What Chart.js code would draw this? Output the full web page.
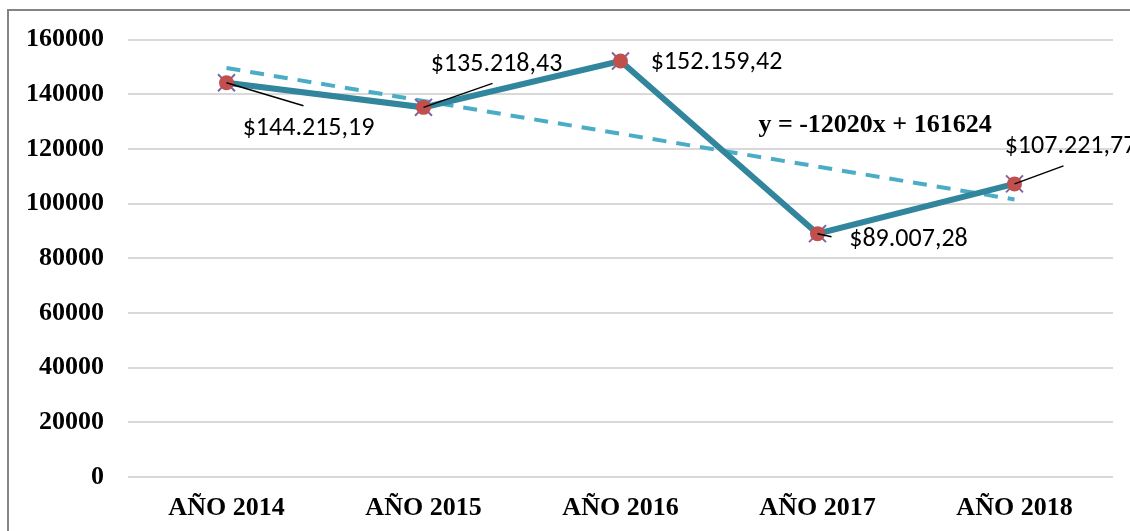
<!DOCTYPE html>
<html>
<head>
<meta charset="utf-8">
<script src="https://cdn.jsdelivr.net/npm/chart.js@4/dist/chart.umd.min.js"></script>
<style>
  html, body { margin: 0; padding: 0; background: #fff; overflow: hidden; }
  #frame {
    position: absolute; left: 7px; top: 9px; width: 1140px; height: 540px;
    border: 2px solid #848484; box-sizing: border-box;
  }
  #wrap { position: absolute; left: 0; top: 0; width: 1130px; height: 531px; }
</style>
</head>
<body>
<div id="frame"></div>
<div id="wrap"><canvas id="myChart"></canvas></div>
<script>
const categories = ["AÑO 2014", "AÑO 2015", "AÑO 2016", "AÑO 2017", "AÑO 2018"];
const ventas = [144215.19, 135218.43, 152159.42, 89007.28, 107221.77];
const etiquetas = ["$144.215,19", "$135.218,43", "$152.159,42", "$89.007,28", "$107.221,77"];
const yTicks = [0, 20000, 40000, 60000, 80000, 100000, 120000, 140000, 160000];
const trendSlope = -12020;
const trendIntercept = 161624;
const trendText = "y = -12020x + 161624";

// linea de tendencia evaluada en x = 1..5 (como en Excel)
const tendencia = categories.map((c, i) => trendSlope * (i + 1) + trendIntercept);

// posicion de las etiquetas respecto al punto: [dx, dy, finLineaDx, finLineaDy]
const labelPos = [
  [82, 46, 77, 23],
  [73, -43, 69, -24],
  [96, 1, null, null],
  [91, 6, 14, 3],
  [56, -37, 49, -18]
];

let serif = "'Liberation Serif', 'Times New Roman', serif";

let dataLabels = {
  id: "dataLabels",
  afterDatasetsDraw(chart) {
    let ctx = chart.ctx;
    let meta = chart.getDatasetMeta(2);
    ctx.save();
    ctx.font = "26px Calibri, Carlito, 'Noto Sans'";
    ctx.textAlign = "center";
    ctx.textBaseline = "middle";
    meta.data.forEach((pt, i) => {
      let p = labelPos[i];
      if (p[2] != null) {
        ctx.beginPath();
        ctx.strokeStyle = "#000";
        ctx.lineWidth = 1.5;
        ctx.moveTo(pt.x, pt.y);
        ctx.lineTo(pt.x + p[2], pt.y + p[3]);
        ctx.stroke();
      }
      ctx.fillStyle = "#000";
      ctx.fillText(etiquetas[i], pt.x + p[0], pt.y + p[1]);
    });
    // ecuacion de la tendencia
    let xs = chart.scales.x;
    let ys = chart.scales.y;
    ctx.font = "bold 26px " + serif;
    ctx.textAlign = "left";
    ctx.fillText(trendText, xs.getPixelForValue(2.7), ys.getPixelForValue(128500));
    ctx.restore();
  }
};

new Chart(document.getElementById("myChart"), {
  type: "line",
  data: {
    labels: categories,
    datasets: [
      {
        label: "Lineal",
        data: tendencia,
        borderColor: "#4BACC6",
        borderWidth: 4,
        borderDash: [14, 10],
        pointRadius: 0,
        fill: false,
        order: 3
      },
      {
        label: "cruces",
        data: ventas,
        showLine: false,
        pointStyle: "crossRot",
        pointRadius: 12,
        pointBorderColor: "#8064A2",
        pointBorderWidth: 2,
        order: 2
      },
      {
        label: "Ventas",
        data: ventas,
        borderColor: "#31859C",
        borderWidth: 6,
        pointStyle: "circle",
        pointRadius: 7.5,
        pointBackgroundColor: "#C0504D",
        pointBorderColor: "#C0504D",
        pointBorderWidth: 0,
        tension: 0,
        order: 1
      }
    ]
  },
  options: {
    responsive: true,
    maintainAspectRatio: false,
    animation: false,
    layout: { padding: { top: 39, right: 17, left: 0, bottom: 0 } },
    plugins: {
      legend: { display: false },
      tooltip: { enabled: false }
    },
    scales: {
      x: {
        offset: true,
        grid: { display: false, drawTicks: false },
        border: { display: false },
        ticks: {
          color: "#000",
          padding: 16,
          font: { family: serif, size: 26, weight: "bold" }
        },
        afterFit: (scale) => { scale.height = 54; }
      },
      y: {
        min: 0,
        max: 160000,
        afterBuildTicks: (scale) => { scale.ticks = yTicks.map(v => ({ value: v })); },
        grid: { color: "#D9D9D9", lineWidth: 2, drawTicks: false },
        border: { display: false },
        ticks: {
          color: "#000",
          padding: 24,
          font: { family: serif, size: 26, weight: "bold" },
          callback: (v) => String(v)
        },
        afterFit: (scale) => { scale.width = 128; }
      }
    }
  },
  plugins: [dataLabels]
});
</script>
</body>
</html>
